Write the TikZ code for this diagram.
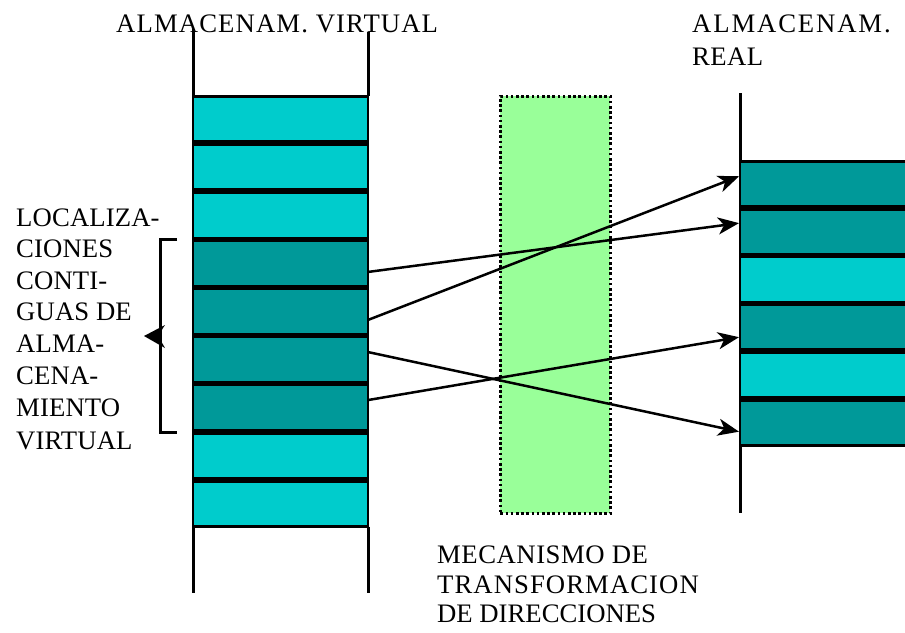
\documentclass[tikz,border=0pt]{standalone}
\usepackage{fontspec}
\setmainfont{Liberation Serif}
\usetikzlibrary{arrows.meta,calc}
\definecolor{lightc}{HTML}{00CCCC}
\definecolor{darkc}{HTML}{009999}
\definecolor{mech}{HTML}{99FF99}
\begin{document}
\begin{tikzpicture}[x=1pt,y=-1pt,
 cell/.style={draw=black,line width=2.8pt,minimum width=175pt,inner sep=0pt,outer sep=0pt,anchor=north west},
 rail/.style={line width=3pt},
 link/.style={line width=2.5pt,shorten >=1pt,-{Stealth[length=21pt,width=17pt,inset=6pt]}},
 lbl/.style={anchor=base west,inner sep=0pt,font=\fontsize{26.7}{32}\selectfont\addfontfeature{LetterSpace=#1}},
 lbl/.default=2
]
\path[use as bounding box,clip] (0,0) rectangle (905,632);
\fill[white] (0,0) rectangle (905,632);

% virtual storage column
\foreach \k/\c in {1/lightc,2/lightc,3/lightc,4/darkc,5/darkc,6/darkc,7/darkc,8/lightc,9/lightc}
  \node[cell,fill=\c,minimum height=45.3pt] (L\k) at (193,{96.4+48.1*(\k-1)}) {};
\draw[rail] (193,29) -- (L1.north west);
\draw[rail] (368,32) -- (L1.north east);
\draw[rail] (L9.south west) -- (193,593);
\draw[rail] (L9.south east) -- (368,593);

% real storage column
\foreach \k/\c in {1/darkc,2/darkc,3/lightc,4/darkc,5/lightc,6/darkc}
  \node[cell,fill=\c,minimum height=45pt] (R\k) at (740,{161.4+47.8*(\k-1)}) {};
\draw[rail] (R1.north west) -- (740,93);
\draw[rail] (R6.south west) -- (740,513);

% transformation mechanism
\node[draw=black,dash pattern=on 2.6pt off 2.6pt,line width=2.8pt,fill=mech,
      minimum width=110pt,minimum height=417pt,inner sep=0pt,anchor=north west] (mech) at (499,95) {};

% mappings
\draw[link] ($(L4.east)+(0,8.6)$) -- ($(R2.west)+(0,-8.7)$);
\draw[link] ($(L5.east)+(0,8.5)$) -- ($(R1.west)+(0,-8)$);
\draw[link] ($(L6.east)+(0,-7.5)$) -- ($(R6.west)+(0,9)$);
\draw[link] ($(L7.east)+(0,-7.6)$) -- ($(R4.west)+(0,9.7)$);

% bracket
\coordinate (bt) at (177,239);
\coordinate (bb) at (177,432);
\draw[rail] (bt) -- (160,239) -- (160,432) -- (bb);
\coordinate (btip) at (144,336);
\fill (btip) -- (165,325) .. controls (161,331) .. (160,336) .. controls (161,341) .. (165,348) -- cycle;

% labels
\node[lbl=4.2] (tv) at (116,32) {ALMACENAM. VIRTUAL};
\node[lbl=7] (tr1) at (692,32.5) {ALMACENAM.};
\node[lbl=1.5] (tr2) at (692,65) {REAL};
\node[lbl=0.5] (c1) at (16,226) {LOCALIZA-};
\node[lbl=0.5] (c2) at (16,257.5) {CIONES};
\node[lbl=0.5] (c3) at (16,289) {CONTI-};
\node[lbl=0.5] (c4) at (16,320.5) {GUAS DE};
\node[lbl=0.5] (c5) at (16,352) {ALMA-};
\node[lbl=0.5] (c6) at (16,384) {CENA-};
\node[lbl=0.5] (c7) at (16,416.5) {MIENTO};
\node[lbl=0.5] (c8) at (16,449) {VIRTUAL};
\node[lbl=2] (m1) at (437,563) {MECANISMO DE};
\node[lbl=4] (m2) at (437,593) {TRANSFORMACION};
\node[lbl=0] (m3) at (437,622) {DE DIRECCIONES};
\end{tikzpicture}
\end{document}
